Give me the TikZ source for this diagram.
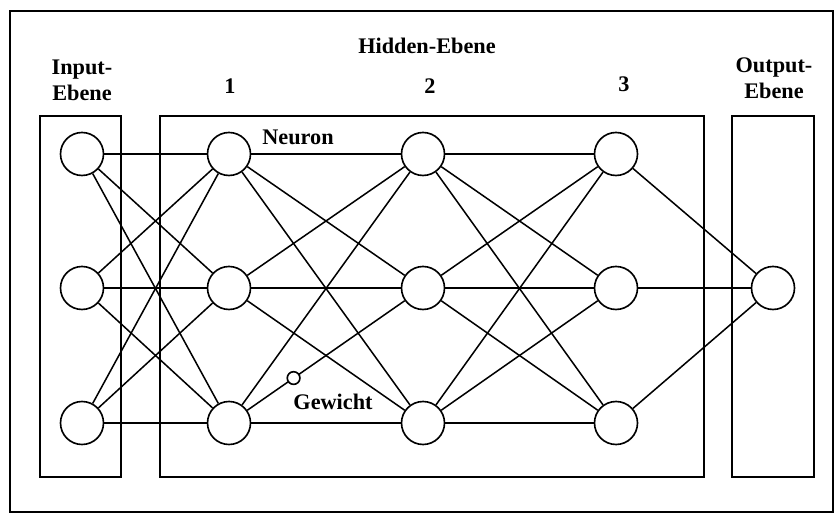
\documentclass[tikz,border=0pt]{standalone}
\usepackage{fontspec}
\setmainfont{Liberation Serif}
\usetikzlibrary{positioning, calc}

\tikzset{
  neuron/.style={circle, draw, line width=1.4pt, fill=white, minimum size=1.29cm, inner sep=0pt},
  weight/.style={circle, draw, line width=1.4pt, fill=white, minimum size=0.38cm, inner sep=0pt},
  layerbox/.style={draw, line width=1.3pt},
  synapse/.style={line width=1.3pt},
  caption/.style={font=\fontsize{19}{22}\selectfont\bfseries, align=center, inner sep=0pt}
}

\begin{document}
\begin{tikzpicture}[x=0.03cm, y=-0.03cm]
  \useasboundingbox (0,0) rectangle (836,514);

  % Outer frame
  \draw[line width=2pt] (10,11) rectangle (833,512);

  % Layer boxes
  \draw[layerbox] (40,116) rectangle (121,477);
  \draw[layerbox] (160,116) rectangle (704,477);
  \draw[layerbox] (732,116) rectangle (814,477);

  % Coordinates of the neurons
  \coordinate (pi1) at (82,154);
  \coordinate (pi2) at (82,288);
  \coordinate (pi3) at (82,423);
  \coordinate (pa1) at (229,154);
  \coordinate (pa2) at (229,288);
  \coordinate (pa3) at (229,423);
  \coordinate (pb1) at (423,154);
  \coordinate (pb2) at (423,288);
  \coordinate (pb3) at (423,423);
  \coordinate (pc1) at (616,154);
  \coordinate (pc2) at (616,288);
  \coordinate (pc3) at (616,423);
  \coordinate (po) at (773,288);

  % Neurons
  \foreach \n in {1,2,3} {
    \node[neuron] (i\n) at (pi\n) {};
    \node[neuron] (ha\n) at (pa\n) {};
    \node[neuron] (hb\n) at (pb\n) {};
    \node[neuron] (hc\n) at (pc\n) {};
  }
  \node[neuron] (o) at (po) {};

  % Connections between the layers
  \foreach \a in {1,2,3} {
    \foreach \b in {1,2,3} {
      \draw[synapse] (i\a) -- (ha\b);
      \draw[synapse] (ha\a) -- (hb\b);
      \draw[synapse] (hb\a) -- (hc\b);
    }
    \draw[synapse] (hc\a) -- (o);
  }

  % Weight marker
  \node[weight] (w) at ($(pa3)!0.333!(pb2)$) {};

  % Labels
  \node[caption] (lin) at (82,80) {Input-\\Ebene};
  \node[caption] (lhid) at (427,46) {Hidden-Ebene};
  \node[caption] (l1) at (230,86) {1};
  \node[caption] (l2) at (430,86) {2};
  \node[caption] (l3) at (624,84) {3};
  \node[caption] (lout) at (774,78) {Output-\\Ebene};
  \node[caption] (lneuron) at (298,137) {Neuron};
  \node[caption] (lweight) at (333,402) {Gewicht};
\end{tikzpicture}
\end{document}
